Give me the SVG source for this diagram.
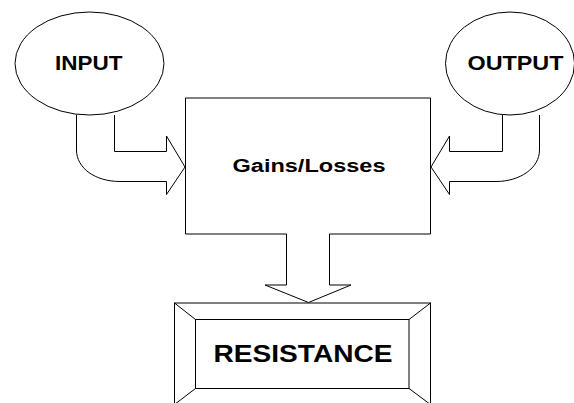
<svg xmlns="http://www.w3.org/2000/svg" width="574" height="403" viewBox="0 0 574 403">
  <style>
    .shape { fill: #ffffff; stroke: #000000; stroke-width: 1; }
    .line { fill: none; stroke: #000000; stroke-width: 1; }
    .label { font-family: "Liberation Sans", Arial, sans-serif; font-weight: bold; fill: #000000; }
  </style>
  <rect x="0" y="0" width="574" height="403" fill="#ffffff"/>

  <!-- connectors: block arrows -->
  <g id="connectors">
    <path id="arrow-input" class="shape" d="M76.5,115 V150 C76.5,168 95,181.5 120,181.5 H166.5 V194.5 L185,167 L166.5,136 V151.5 H114.5 V115"/>
    <path id="arrow-output" class="shape" d="M502.5,115 V151.5 H449.5 V136 L431,167 L449.5,194.5 V181.5 H496 C520,181.5 539.5,168 539.5,150 V115"/>
    <path id="arrow-down" class="shape" d="M286.5,234 V285 H265 L308.5,302.5 L351,285 H329.5 V234"/>
  </g>

  <g id="input">
    <ellipse class="shape" cx="89.5" cy="63.5" rx="74.5" ry="51.5"/>
    <text class="label" x="55" y="70" font-size="19.5" textLength="67.5" lengthAdjust="spacingAndGlyphs">INPUT</text>
  </g>

  <g id="output">
    <ellipse class="shape" cx="510" cy="63.5" rx="64.5" ry="51.5"/>
    <text class="label" x="467.5" y="70" font-size="20" textLength="96" lengthAdjust="spacingAndGlyphs">OUTPUT</text>
  </g>

  <g id="gains-losses">
    <path class="line" d="M286.5,234 H185.5 V98 H430.5 V234 H329.5"/>
    <text class="label" x="232.5" y="171.5" font-size="18" textLength="153" lengthAdjust="spacingAndGlyphs">Gains/Losses</text>
  </g>

  <g id="resistance">
    <rect class="shape" x="174.5" y="303" width="256" height="101.5"/>
    <rect class="shape" x="195.5" y="319.5" width="213.5" height="69"/>
    <path class="line" d="M174.5,303 L195.5,319.5 M430.5,303 L409,319.5 M174.5,404.5 L195.5,388.5 M430.5,404.5 L409,388.5"/>
    <text class="label" x="213.5" y="361.5" font-size="23" textLength="179" lengthAdjust="spacingAndGlyphs">RESISTANCE</text>
  </g>
</svg>
